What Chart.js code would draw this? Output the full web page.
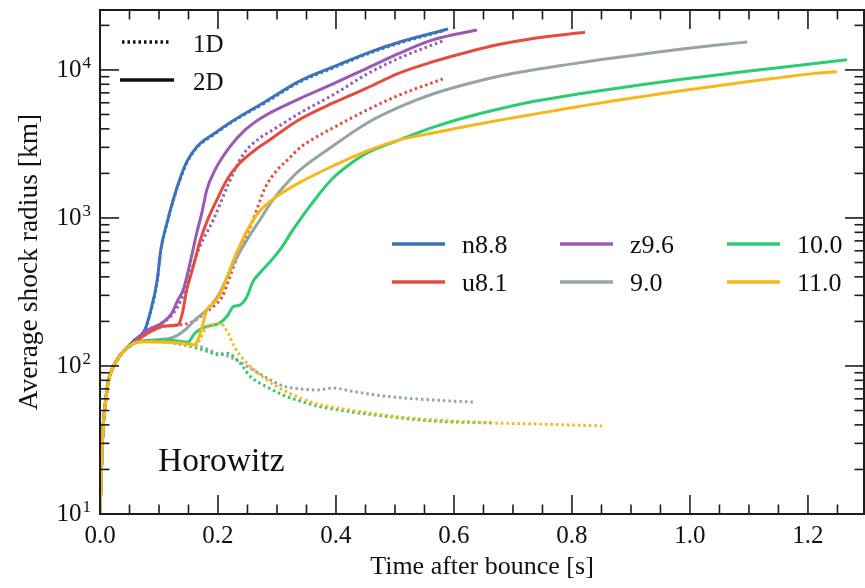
<!DOCTYPE html>
<html>
<head>
<meta charset="utf-8">
<script src="https://cdn.jsdelivr.net/npm/chart.js@4.4.1/dist/chart.umd.min.js"></script>
<style>
  body { margin: 0; background: #fff; }
</style>
</head>
<body>
<canvas id="shock" width="865" height="588"></canvas>
<script>
// early phase, shared by every model [s], [km]
const shareT = [0, 0.002, 0.0035, 0.005, 0.0085, 0.0136, 0.022, 0.037];
const shareR = [10, 18, 26, 37, 53, 77, 98, 122];

// n8.8
const n88T2 = [0.059, 0.076, 0.085, 0.097, 0.103, 0.114, 0.124, 0.136, 0.147, 0.164, 0.195, 0.224, 0.28, 0.339, 0.395, 0.453, 0.508, 0.59];
const n88R2 = [150, 175, 228, 381, 608, 940, 1324, 1862, 2390, 3020, 3750, 4500, 6100, 8430, 10470, 13000, 15450, 18900];
const n88T1 = [0.059, 0.076, 0.085, 0.097, 0.103, 0.114, 0.124, 0.136, 0.147, 0.164, 0.195, 0.224, 0.28, 0.339, 0.395, 0.453, 0.508, 0.585];
const n88R1 = [150, 175, 226, 375, 600, 930, 1300, 1830, 2350, 2980, 3700, 4450, 6000, 8300, 10300, 12800, 15200, 18500];

// z9.6
const z96T2 = [0.059, 0.076, 0.105, 0.122, 0.132, 0.141, 0.153, 0.164, 0.173, 0.181, 0.195, 0.22, 0.246, 0.276, 0.334, 0.395, 0.453, 0.508, 0.564, 0.639];
const z96R2 = [146, 170, 195, 228, 279, 326, 504, 792, 1098, 1546, 2110, 3020, 3930, 4810, 6270, 8040, 10300, 13000, 15950, 18600];
const z96T1 = [0.059, 0.076, 0.105, 0.122, 0.136, 0.147, 0.158, 0.169, 0.192, 0.217, 0.242, 0.271, 0.293, 0.339, 0.395, 0.453, 0.508, 0.581];
const z96R1 = [146, 170, 195, 221, 271, 352, 481, 637, 969, 1670, 2660, 3470, 3930, 5120, 6780, 9400, 12050, 15700];

// u8.1
const u81T2 = [0.059, 0.085, 0.11, 0.132, 0.139, 0.147, 0.158, 0.169, 0.181, 0.198, 0.217, 0.237, 0.263, 0.288, 0.334, 0.395, 0.453, 0.508, 0.564, 0.622, 0.678, 0.734, 0.822];
const u81R2 = [145, 170, 186, 189, 221, 326, 467, 688, 940, 1324, 1862, 2350, 2880, 3370, 4520, 5980, 7560, 9550, 11350, 13180, 14890, 16330, 17990];
const u81T1 = [0.059, 0.085, 0.11, 0.132, 0.156, 0.178, 0.195, 0.207, 0.217, 0.237, 0.258, 0.28, 0.3, 0.317, 0.34, 0.361, 0.395, 0.453, 0.508, 0.581];
const u81R1 = [145, 170, 186, 189, 198, 228, 258, 293, 370, 608, 940, 1600, 2100, 2450, 3000, 3420, 4060, 5370, 6780, 8690];

// 9.0
const s90T2 = [0.059, 0.076, 0.122, 0.144, 0.161, 0.186, 0.203, 0.225, 0.249, 0.271, 0.293, 0.317, 0.339, 0.39, 0.453, 0.508, 0.564, 0.622, 0.678, 0.734, 0.792, 0.847, 0.927, 0.983, 1.039, 1.097];
const s90R2 = [143, 148, 155, 175, 205, 250, 311, 481, 710, 969, 1324, 1723, 2110, 2970, 4380, 5620, 6880, 8040, 9100, 10000, 10860, 11700, 12900, 13770, 14620, 15450];
const s90T1 = [0.059, 0.076, 0.122, 0.169, 0.198, 0.22, 0.254, 0.283, 0.31, 0.339, 0.368, 0.395, 0.424, 0.48, 0.564, 0.632];
const s90R1 = [143, 147, 145, 136, 122, 115, 97, 83, 73.3, 70, 68.9, 71, 67.8, 62.7, 58.9, 57.1];

// 10.0
const s100T2 = [0.059, 0.081, 0.119, 0.149, 0.161, 0.178, 0.203, 0.217, 0.225, 0.237, 0.249, 0.259, 0.271, 0.288, 0.305, 0.327, 0.351, 0.373, 0.395, 0.424, 0.453, 0.508, 0.564, 0.622, 0.678, 0.734, 0.792, 0.847, 0.927, 0.983, 1.039, 1.097, 1.153, 1.208, 1.266];
const s100R2 = [143, 148, 149, 145, 167, 183, 195, 221, 250, 258, 293, 370, 425, 504, 608, 830, 1132, 1475, 1862, 2315, 2750, 3370, 4090, 4810, 5470, 6110, 6700, 7240, 8040, 8610, 9180, 9790, 10400, 11020, 11700];
const s100T1 = [0.059, 0.081, 0.122, 0.158, 0.186, 0.198, 0.215, 0.237, 0.254, 0.283, 0.31, 0.339, 0.368, 0.395, 0.453, 0.508, 0.564, 0.666];
const s100R1 = [143, 147, 143, 134, 124, 119, 122, 105, 85.5, 72.2, 63.7, 58, 53.7, 51.2, 47.4, 44.6, 42.5, 41.2];

// 11.0
const s110T2 = [0.059, 0.076, 0.105, 0.132, 0.161, 0.166, 0.173, 0.181, 0.195, 0.207, 0.225, 0.249, 0.271, 0.3, 0.339, 0.395, 0.453, 0.508, 0.564, 0.622, 0.678, 0.734, 0.814, 0.869, 0.927, 0.983, 1.039, 1.097, 1.153, 1.208, 1.249];
const s110R2 = [143, 146, 145, 143, 139, 150, 183, 239, 271, 326, 504, 817, 1115, 1400, 1740, 2245, 2840, 3370, 3750, 4160, 4580, 5010, 5680, 6170, 6680, 7210, 7740, 8320, 8870, 9440, 9730];
const s110T1 = [0.059, 0.076, 0.105, 0.132, 0.161, 0.169, 0.178, 0.19, 0.203, 0.217, 0.229, 0.254, 0.283, 0.31, 0.339, 0.368, 0.424, 0.508, 0.564, 0.666, 0.734, 0.851];
const s110R1 = [143, 146, 145, 143, 136, 150, 175, 189, 195, 167, 132, 100, 80.4, 68.9, 60.8, 55.4, 50.4, 45.2, 43.2, 41.2, 40.6, 39.3];

const xTicks = [0, 0.2, 0.4, 0.6, 0.8, 1.0, 1.2];
const yExps = [1, 2, 3, 4];

const models = ['n8.8', 'u8.1', 'z9.6', '9.0', '10.0', '11.0'];
const colors = {
    'n8.8': '#3b74bd',
    'u8.1': '#e44d3e',
    'z9.6': '#9b59b6',
    '9.0': '#95a5a6',
    '10.0': '#2ecc71',
    '11.0': '#f6b718'
};

const FONT = '"Liberation Serif", "Times New Roman", serif';

function pts(t, r) {
    var out = shareT.map(function (v, i) { return { x: v, y: shareR[i] }; });
    return out.concat(t.map(function (v, i) { return { x: v, y: r[i] }; }));
}

function line(name, t, r, dotted) {
    return {
        label: name + (dotted ? ' 1D' : ' 2D'),
        data: pts(t, r),
        borderColor: colors[name],
        borderWidth: 3,
        borderDash: dotted ? [2.5, 3] : [],
        pointRadius: 0,
        fill: false,
        cubicInterpolationMode: 'monotone'
    };
}

// first dataset ends up on top
var sets = [
    line('11.0', s110T2, s110R2, false),
    line('11.0', s110T1, s110R1, true),
    line('10.0', s100T2, s100R2, false),
    line('10.0', s100T1, s100R1, true),
    line('9.0', s90T2, s90R2, false),
    line('9.0', s90T1, s90R1, true),
    line('u8.1', u81T2, u81R2, false),
    line('u8.1', u81T1, u81R1, true),
    line('z9.6', z96T1, z96R1, true),
    line('z9.6', z96T2, z96R2, false),
    line('n8.8', n88T1, n88R1, true),
    line('n8.8', n88T2, n88R2, false)
];

const frame = {
    id: 'frame',
    afterDraw(chart) {
        const ctx = chart.ctx;
        const a = chart.chartArea;
        const x = chart.scales.x, y = chart.scales.y;
        ctx.save();

        function seg(x1, y1, x2, y2) {
            ctx.beginPath();
            ctx.moveTo(x1, y1);
            ctx.lineTo(x2, y2);
            ctx.stroke();
        }

        // inward ticks on all four sides
        ctx.strokeStyle = '#1c1c1c';
        ctx.lineWidth = 1.6;
        for (let k = 0; k * 0.05 <= x.max; k++) {
            const px = x.getPixelForValue(k * 0.05);
            const len = k % 4 === 0 ? 19 : 9.5;
            seg(px, a.bottom, px, a.bottom - len);
            seg(px, a.top, px, a.top + len);
        }
        for (let e = 1; e <= 4; e++) {
            for (let m = 1; m <= 9; m++) {
                const v = m * Math.pow(10, e);
                if (v > y.max) break;
                const py = y.getPixelForValue(v);
                const len = m === 1 ? 19 : 9.5;
                seg(a.left, py, a.left + len, py);
                seg(a.right, py, a.right - len, py);
            }
        }
        ctx.lineWidth = 2;
        ctx.strokeRect(a.left, a.top, a.right - a.left, a.bottom - a.top);

        // tick labels
        ctx.fillStyle = '#111';
        ctx.textBaseline = 'alphabetic';
        ctx.font = '25px ' + FONT;
        ctx.textAlign = 'center';
        xTicks.forEach(function (v) {
            ctx.fillText(v.toFixed(1), x.getPixelForValue(v), a.bottom + 29);
        });
        ctx.textAlign = 'right';
        yExps.forEach(function (e) {
            const py = y.getPixelForValue(Math.pow(10, e));
            ctx.font = '17px ' + FONT;
            const w = ctx.measureText(String(e)).width;
            ctx.fillText(String(e), 91, py - 2);
            ctx.font = '25px ' + FONT;
            ctx.fillText('10', 91 - w - 1, py + 7);
        });

        // axis titles
        ctx.font = '26px ' + FONT;
        ctx.textAlign = 'center';
        ctx.fillText('Time after bounce [s]', (a.left + a.right) / 2, 574);
        ctx.save();
        ctx.translate(37, (a.top + a.bottom) / 2);
        ctx.rotate(-Math.PI / 2);
        ctx.font = '27.5px ' + FONT;
        ctx.fillText('Average shock radius [km]', 0, 0);
        ctx.restore();

        // label inside the plot
        ctx.textAlign = 'left';
        ctx.font = '33.5px ' + FONT;
        ctx.fillText('Horowitz', 158, 471);

        // 1D / 2D key
        ctx.font = '25px ' + FONT;
        ctx.strokeStyle = '#111';
        ctx.lineWidth = 3.5;
        ctx.setLineDash([2.5, 3]);
        seg(122, 42, 171, 42);
        ctx.setLineDash([]);
        seg(120, 80, 174, 80);
        ctx.fillText('1D', 193, 52);
        ctx.fillText('2D', 193, 90);

        // model key, 3 columns x 2 rows
        const colX = [392, 560, 727];
        const rowY = [244, 282];
        ctx.font = '26px ' + FONT;
        ctx.lineWidth = 3.5;
        models.forEach(function (name, i) {
            const cx = colX[Math.floor(i / 2)];
            const cy = rowY[i % 2];
            ctx.strokeStyle = colors[name];
            seg(cx, cy, cx + 53, cy);
            ctx.fillStyle = '#111';
            ctx.fillText(name, cx + 70, cy + 9);
        });

        ctx.restore();
    }
};

new Chart(document.getElementById('shock'), {
    type: 'line',
    data: { datasets: sets },
    options: {
        responsive: false,
        animation: false,
        devicePixelRatio: 1,
        layout: { padding: { left: 0, right: 1, top: 10, bottom: 0 } },
        plugins: {
            legend: { display: false },
            tooltip: { enabled: false }
        },
        scales: {
            x: {
                type: 'linear',
                min: 0,
                max: 1.295,
                grid: { display: false, drawTicks: false },
                border: { display: false },
                ticks: { display: false },
                afterFit: function (s) { s.height = 74; }
            },
            y: {
                type: 'logarithmic',
                min: 10,
                max: 25400,
                grid: { display: false, drawTicks: false },
                border: { display: false },
                ticks: { display: false },
                afterFit: function (s) { s.width = 100; }
            }
        }
    },
    plugins: [frame]
});
</script>
</body>
</html>
